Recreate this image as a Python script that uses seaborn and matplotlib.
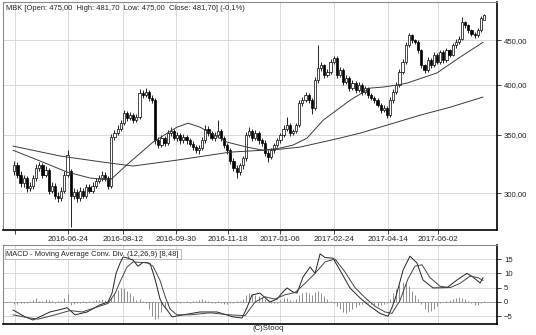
import numpy as np
import pandas as pd
import matplotlib
matplotlib.use("Agg")
import matplotlib.pyplot as plt
import seaborn as sns

# ---------------- data (2-session candles, price in PLN) ----------------
open_ = [318, 323, 315, 308, 312, 304, 306, 312, 321, 323,
         315, 319, 302, 306, 298, 296, 302, 315, 318, 298,
         301, 296, 302, 298, 305, 302, 306, 310, 312, 315,
         312, 306, 348, 352, 356, 361, 371, 366, 369, 364,
         367, 391, 389, 392, 386, 384, 345, 341, 347, 343,
         352, 354, 347, 350, 345, 348, 345, 342, 339, 336,
         338, 345, 356, 352, 347, 350, 354, 347, 341, 336,
         327, 321, 317, 323, 329, 350, 354, 347, 352, 345,
         343, 334, 330, 336, 341, 345, 350, 356, 359, 352,
         354, 359, 381, 384, 389, 384, 376, 405, 418, 421,
         410, 414, 425, 429, 410, 416, 403, 407, 396, 402,
         394, 400, 392, 396, 389, 386, 384, 379, 374, 376,
         369, 384, 392, 400, 414, 425, 444, 456, 450, 448,
         438, 421, 416, 427, 421, 433, 425, 436, 427, 438,
         433, 444, 448, 452, 472, 468, 462, 458, 456, 462,
         475]
close = [323, 315, 308, 312, 304, 306, 312, 321, 323, 315,
         319, 302, 306, 298, 296, 302, 315, 332, 298, 301,
         296, 302, 298, 305, 302, 306, 310, 312, 315, 312,
         306, 348, 352, 356, 361, 371, 366, 369, 364, 367,
         391, 389, 392, 386, 384, 345, 341, 347, 343, 352,
         354, 347, 350, 345, 348, 345, 342, 339, 336, 338,
         345, 356, 352, 347, 350, 354, 347, 341, 336, 327,
         321, 317, 323, 329, 350, 354, 347, 352, 345, 343,
         334, 330, 336, 341, 345, 350, 356, 359, 352, 354,
         359, 381, 384, 389, 384, 376, 405, 418, 421, 410,
         414, 425, 429, 410, 416, 403, 407, 396, 402, 394,
         400, 392, 396, 389, 386, 384, 379, 374, 376, 369,
         384, 392, 400, 414, 425, 444, 456, 450, 448, 438,
         421, 416, 427, 421, 433, 425, 436, 427, 438, 433,
         444, 448, 452, 472, 468, 462, 458, 456, 462, 477,
         481.7]
high = [327, 326, 318, 315, 314, 309, 315, 324, 326, 325,
        322, 321, 309, 308, 301, 305, 318, 336, 320, 304,
        303, 305, 304, 307, 307, 309, 312, 315, 318, 317,
        314, 351, 355, 359, 364, 374, 373, 372, 371, 370,
        395, 394, 396, 394, 389, 386, 348, 350, 349, 355,
        357, 356, 353, 352, 351, 350, 347, 344, 341, 341,
        348, 359, 358, 354, 353, 364, 356, 349, 343, 338,
        329, 323, 325, 331, 353, 357, 356, 355, 354, 347,
        345, 336, 338, 343, 347, 352, 359, 367, 361, 356,
        361, 384, 387, 392, 391, 386, 408, 444, 425, 423,
        417, 428, 432, 431, 419, 418, 410, 409, 405, 404,
        403, 402, 399, 398, 391, 388, 386, 381, 379, 378,
        387, 395, 403, 417, 428, 448, 459, 458, 452, 450,
        440, 423, 430, 429, 436, 435, 439, 438, 441, 440,
        447, 451, 455, 478, 474, 470, 464, 460, 465, 480,
        483]
low = [315, 312, 305, 305, 301, 302, 303, 310, 318, 312,
       313, 299, 300, 295, 293, 294, 300, 313, 274, 295,
       293, 294, 296, 296, 300, 300, 304, 308, 310, 310,
       303, 304, 345, 350, 354, 359, 363, 364, 361, 362,
       365, 386, 387, 383, 381, 342, 338, 339, 340, 341,
       349, 345, 344, 342, 343, 342, 340, 336, 334, 333,
       336, 343, 349, 345, 344, 347, 344, 338, 333, 324,
       318, 312, 315, 320, 327, 348, 344, 345, 342, 340,
       331, 326, 328, 334, 339, 343, 348, 354, 349, 350,
       352, 357, 378, 382, 381, 370, 374, 402, 415, 407,
       408, 411, 423, 407, 408, 400, 401, 393, 394, 391,
       392, 389, 390, 386, 384, 381, 377, 371, 372, 366,
       367, 381, 390, 398, 411, 423, 442, 447, 445, 435,
       418, 413, 414, 418, 419, 422, 423, 424, 425, 430,
       431, 441, 445, 450, 465, 459, 455, 453, 454, 460,
       475]

# moving averages (trading-day index, price)
ma_fast_day = [-1.3, 16.0, 33.2, 47.9, 60.7, 73.4, 88.1, 103.4, 110.5, 118.1,
               135.4, 148.1, 158.4, 169.2, 177.5, 186.5, 196.7, 213.9, 226.7,
               235.0, 243.9, 250.3, 269.5, 284.2, 298.9]
ma_fast_val = [336.1, 326.6, 317.2, 312.2, 310.5, 325.7, 343.4, 357.3, 361.1, 357.3,
               343.4, 338.9, 336.1, 338.0, 340.7, 347.1, 363.9, 383.7, 396.3,
               397.4, 399.5, 401.6, 412.6, 430.2, 447.6]
ma_slow_day = [-1.3, 28.7, 54.3, 75.3, 103.4, 137.3, 169.2, 182.0, 207.5, 220.3,
               237.5, 258.6, 277.8, 298.9]
ma_slow_val = [339.8, 331.0, 326.0, 322.3, 327.4, 334.4, 337.0, 338.9, 347.1, 351.7,
               359.2, 368.8, 376.7, 387.0]

# MACD (12,26,9)
macd_day = [-1.3, 6.4, 11.5, 22.3, 30.0, 33.2, 38.3, 46.0, 54.3, 59.4, 61.9, 64.5,
            67.0, 69.0, 72.2, 75.4, 78.5, 81.7, 86.2, 89.4, 92.6, 94.5, 97.1, 100.3,
            107.3, 118.1, 129.0, 139.2, 145.0, 148.1, 151.3, 156.4, 159.6, 162.8,
            167.3, 171.1, 173.7, 177.5, 180.1, 183.9, 188.4, 191.6, 194.8, 198.0,
            203.1, 207.5, 213.9, 220.3, 226.7, 233.1, 238.2, 240.7, 243.3, 247.8,
            252.2, 256.7, 260.5, 266.9, 275.9, 282.3, 288.6, 292.5, 297.0, 298.9]
macd_val = [-2.8, -5.2, -6.3, -3.5, -2.5, -2.0, -4.5, -3.5, -1.0, 0.0, 3.0, 10.0,
            13.5, 15.7, 15.3, 14.6, 12.5, 13.8, 13.5, 8.0, 1.0, -1.0, -2.8, -5.2,
            -4.5, -3.5, -3.5, -5.2, -5.6, -2.0, 2.4, 3.1, 1.5, 0.0,
            1.0, 3.5, 4.9, 3.5, 3.1, 8.7, 12.2, 10.0, 16.8, 15.5,
            15.3, 11.1, 4.9, 1.4, -1.5, -4.0, -5.0, -2.0, 2.0, 11.1,
            16.0, 13.6, 7.7, 4.9, 5.0, 7.7, 10.0, 8.7, 6.6, 8.48]
signal_day = [-1.3, 8.3, 14.7, 25.5, 35.1, 42.8, 51.1, 59.4, 63.9, 67.0, 71.5, 75.4,
              79.8, 84.3, 88.1, 92.6, 95.8, 99.0, 103.4, 111.7, 124.5, 137.3, 146.9,
              153.3, 159.6, 166.0, 172.4, 178.8, 185.2, 191.6, 198.0, 204.3, 210.7,
              217.1, 223.5, 229.9, 236.3, 240.7, 245.8, 250.9, 255.4, 259.9, 265.0,
              271.4, 277.8, 284.2, 290.5, 295.7, 298.9]
signal_val = [-4.5, -5.5, -6.0, -4.5, -3.0, -3.5, -2.0, -0.5, 3.0, 7.0, 12.2, 14.0,
              13.8, 13.8, 12.5, 7.5, 2.0, -2.5, -4.5, -4.5, -3.8, -4.5, -4.8,
              0.0, 1.8, 1.0, 2.5, 3.3, 6.5, 10.0, 14.0, 15.0, 10.5,
              5.0, 1.5, -1.5, -3.5, -4.0, 0.5, 8.0, 12.5, 13.0, 8.5,
              5.5, 5.0, 6.5, 9.0, 8.5, 7.5]
hist = [-0.8, -0.6, -0.5, -0.3, -0.2, 0.3, 0.8, 1.5, 0.5, 0.2,
        1.0, 0.8, 0.3, -0.2, 0.2, 0.5, 1.5, 2.8, -1.0, -0.8,
        -0.5, -0.3, 0.2, -0.2, 0.3, 0.5, 0.8, 0.6, 1.0, 0.8,
        0.5, 1.5, 3.0, 4.2, 5.0, 4.8, 4.0, 3.2, 2.0, 0.8,
        1.0, 0.5, -0.3, -2.5, -5.0, -6.0, -5.5, -3.5, -2.0, -1.0,
        -0.5, -0.2, 0.2, -0.3, 0.0, 0.3, -0.2, 0.2, 0.5, 0.8,
        1.0, 0.6, 0.3, -0.2, -0.5, 0.3, -0.3, -0.6, -0.8, -0.5,
        -0.3, 0.2, 0.5, 1.2, 2.5, 3.0, 2.8, 2.5, 2.0, 1.5,
        1.0, 0.2, -0.5, -0.5, -0.2, 0.8, 1.3, 1.5, 0.8, 0.5,
        1.0, 2.5, 3.2, 3.5, 3.0, 2.5, 3.5, 4.0, 3.2, 2.0,
        1.0, 0.5, -0.5, -1.5, -2.5, -3.5, -3.8, -3.2, -2.5, -1.8,
        -1.0, -0.6, -0.5, -0.3, -0.8, -1.2, -1.5, -1.2, -0.8, -0.3,
        1.0, 3.0, 4.5, 6.0, 7.0, 6.5, 5.5, 4.0, 2.5, 1.0,
        -0.8, -2.5, -3.5, -3.2, -2.5, -1.5, -0.5, 0.0, 0.3, 0.8,
        1.2, 1.5, 1.8, 1.5, 1.0, 0.3, -0.5, -1.0, -1.2, -0.5,
        0.5]

tick_days = [0, 34, 69, 103, 136, 169, 204, 238, 270]
tick_labels = ["", "2016-06-24", "2016-08-12", "2016-09-30", "2016-11-18",
               "2017-01-06", "2017-02-24", "2017-04-14", "2017-06-02"]
price_ticks = [300, 350, 400, 450]
macd_ticks = [-5, 0, 5, 10, 15]
title = "MBK [Open: 475,00  High: 481,70  Low: 475,00  Close: 481,70] (-0,1%)"
macd_title = "MACD - Moving Average Conv. Div. (12,26,9) [8,48]"

# ---------------- plotting ----------------
sns.set_theme(style="white")
plt.rcParams['font.family'] = ['Liberation Sans', 'DejaVu Sans']

n = len(close)
df = pd.DataFrame({"day": 2 * np.arange(n) - 0.5, "o": open_, "h": high,
                   "l": low, "c": close, "hv": hist})

fig = plt.figure(figsize=(5.36, 3.35), dpi=100)
ax = fig.add_axes([3 / 536, 105 / 335, 494 / 536, 228 / 335])
ax2 = fig.add_axes([3 / 536, 11 / 335, 494 / 536, 79 / 335], sharex=ax)

grid_c = "#d9d9d9"
for a in (ax, ax2):
    a.set_facecolor("white")
    a.grid(True, color=grid_c, lw=0.7)
    a.set_axisbelow(True)
    for s in ("left", "top"):
        a.spines[s].set_color("#8a8a8a")
        a.spines[s].set_linewidth(0.8)
    for s in ("right", "bottom"):
        a.spines[s].set_color("black")
        a.spines[s].set_linewidth(1.2)

# price panel
ax.set_yscale("log")
up = df["c"] >= df["o"]
ax.vlines(df["day"], df["l"], df["h"], color="black", lw=0.6, zorder=2)
ax.bar(df["day"][up], (df["c"] - df["o"])[up], bottom=df["o"][up], width=1.4,
       color="white", edgecolor="black", lw=0.5, zorder=3)
ax.bar(df["day"][~up], (df["o"] - df["c"])[~up], bottom=df["c"][~up], width=1.4,
       color="black", edgecolor="black", lw=0.5, zorder=3)
sns.lineplot(x=ma_fast_day, y=ma_fast_val, ax=ax, color="#3a3a3a", lw=0.7, zorder=4)
sns.lineplot(x=ma_slow_day, y=ma_slow_val, ax=ax, color="#3a3a3a", lw=0.7, zorder=4)

ax.set_xlim(-7.7, 307.8)
ax.set_ylim(272, 498)
ax.yaxis.tick_right()
ax.yaxis.set_minor_locator(matplotlib.ticker.NullLocator())
ax.yaxis.set_minor_formatter(matplotlib.ticker.NullFormatter())
ax.set_yticks(price_ticks)
ax.set_yticklabels([f"{v:.2f}".replace(".", ",") for v in price_ticks])
ax.set_xticks(tick_days)
ax.set_xticklabels(tick_labels)
ax.tick_params(axis="y", right=True, length=3, width=0.6, labelsize=5.6,
               pad=2, colors="#222222")
ax.tick_params(axis="x", bottom=True, length=3, width=0.6, labelsize=5.8,
               pad=1.5, colors="#222222")
ax.set_xlabel("")
ax.set_ylabel("")
ax.text(0.006, 0.988, title, transform=ax.transAxes, va="top", ha="left",
        fontsize=5.4, color="#222222")

# MACD panel
ax2.vlines(df["day"], 0, df["hv"], color="#8c8c8c", lw=0.7, zorder=2)
ax2.axhline(0, color="#8c8c8c", lw=0.5, zorder=2)
sns.lineplot(x=macd_day, y=macd_val, ax=ax2, color="#222222", lw=0.7, zorder=4)
sns.lineplot(x=signal_day, y=signal_val, ax=ax2, color="#444444", lw=0.7, zorder=4)
ax2.set_ylim(-7.7, 19.9)
ax2.yaxis.tick_right()
ax2.set_yticks(macd_ticks)
ax2.tick_params(axis="y", right=True, length=3, width=0.6, labelsize=5.6,
                pad=2, colors="#222222")
ax2.tick_params(axis="x", bottom=False, labelbottom=False)
ax2.set_xlabel("")
ax2.set_ylabel("")
ax2.text(0.007, 0.93, macd_title, transform=ax2.transAxes, va="top", ha="left",
         fontsize=5.4, color="#222222",
         bbox=dict(boxstyle="square,pad=0.25", fc="white", ec="#a0a0a0", lw=0.5))

fig.text(0.5, 1 - 328 / 335, "(C)Stooq", ha="center", va="center",
         fontsize=5.6, color="#222222")

fig.savefig("out.png", dpi=100)
